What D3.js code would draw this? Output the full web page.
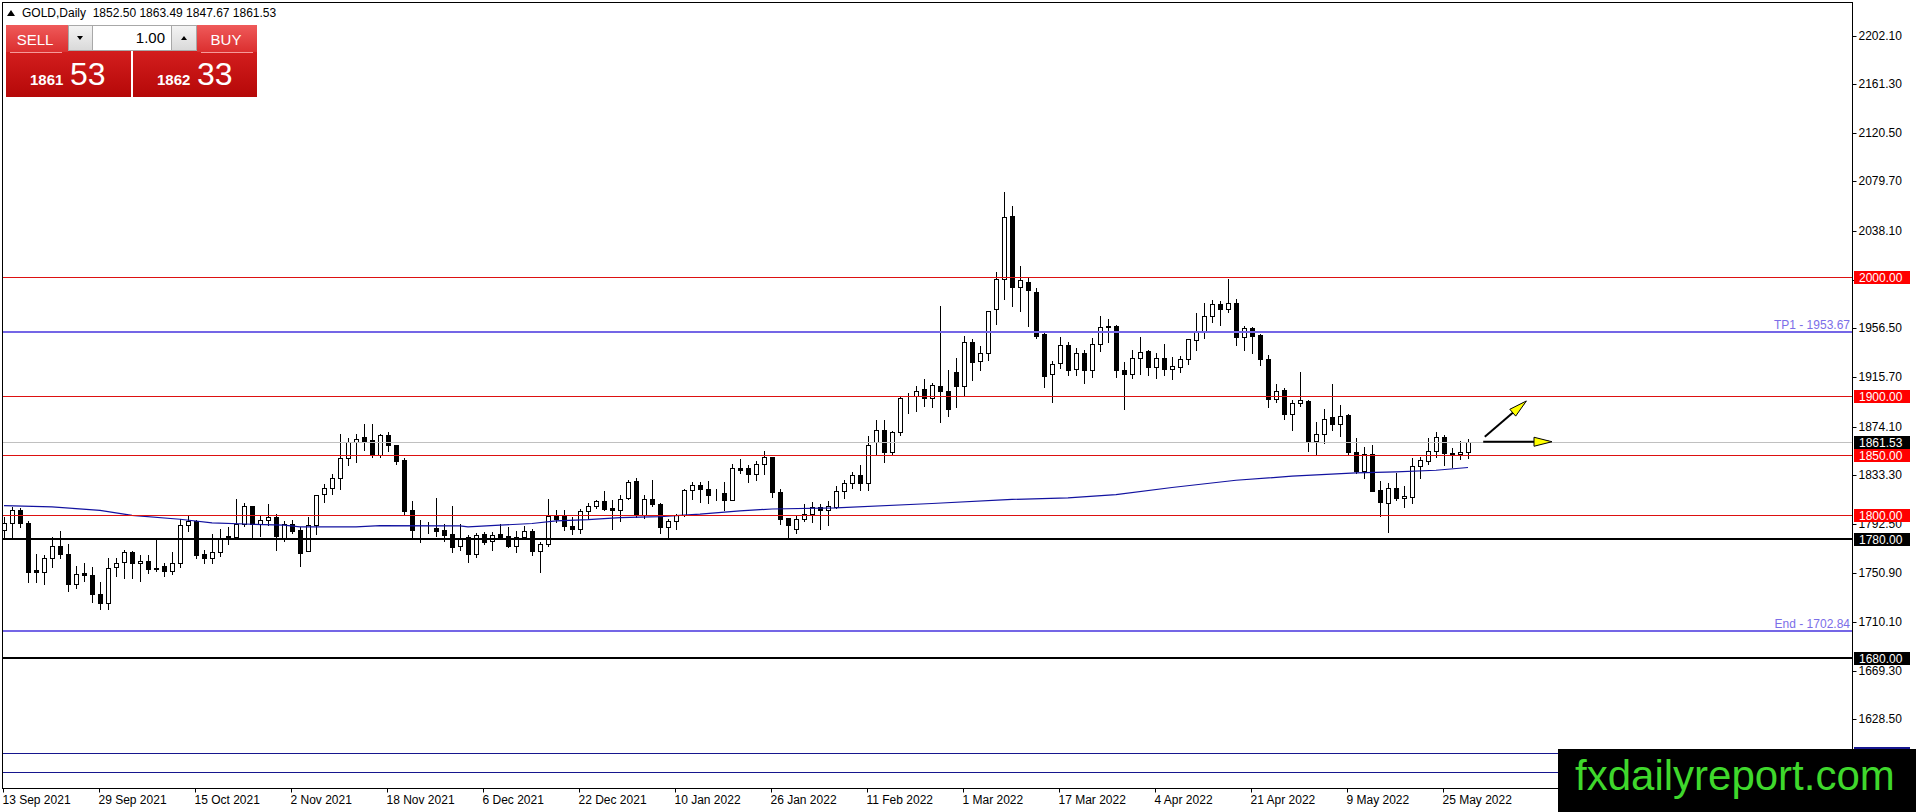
<!DOCTYPE html>
<html>
<head>
<meta charset="utf-8">
<script src="https://cdn.jsdelivr.net/npm/d3@7"></script>
<style>
body { margin: 0; background: #fff; }
svg { display: block; font-family: "Liberation Sans", Arial, sans-serif; }
</style>
</head>
<body>
<div id="content"></div>
<script>
var symbol = "GOLD,Daily";

// daily bars, 13 Sep 2021 .. end of May 2022
var opens = [
	1787,1793,1804,1793,1753.5,1752.5,1763.5,1773.8,1767.3,1741.7,
	1751,1749.3,1733.6,1725.8,1756,1760.7,1768.5,1759.3,1761.5,1755.6,
	1757,1753,1759.3,1791.9,1795,1767,1763.5,1768.5,1782.2,1781.6,
	1792.2,1807.3,1792.8,1796.1,1798.4,1780.2,1792.2,1787.2,1769.9,1791.4,
	1817.7,1822.9,1831.3,1848,1861.2,1865.4,1862.6,1850,1866.8,1858.4,
	1845.8,1803.9,1788,1788,1788.9,1787.7,1783.6,1773.8,1781.6,1767.1,
	1783.8,1778.3,1784.4,1782.2,1774,1781.6,1786.3,1770,1776,1798.9,
	1798.9,1790.5,1788.6,1803.1,1807.8,1811.5,1806.2,1803.9,1814.3,1828.2,
	1799.7,1813.7,1809.5,1790,1795,1799.7,1820.7,1825.4,1822.1,1818.7,
	1818.7,1812.9,1839.7,1839,1834.7,1843,1848.4,1819.4,1797.6,1788.4,
	1796.8,1801,1806.5,1804,1806.5,1820,1826.4,1833.1,1826.4,1861,
	1871.6,1852.6,1869.6,1898.1,1900,1905.6,1898.1,1908.4,1904.2,1919.9,
	1907.9,1945,1928.8,1935.8,1972.6,1997.8,2050.8,1991.1,1995.8,1987.2,
	1952,1918.2,1927.4,1942.8,1922.7,1935.8,1921.8,1943.6,1958.4,1958.4,
	1921.8,1918.5,1931.9,1937.5,1924.1,1931.9,1922.7,1924.1,1931,1946.4,
	1953.4,1966.5,1977.1,1972.9,1977.9,1949.2,1957,1950.6,1931,1897.5,
	1904.5,1885,1893.9,1895.3,1862.1,1867.7,1882.2,1876.6,1883.6,1852.9,
	1836.9,1851.5,1821.3,1810.2,1823,1813.8,1815.2,1840.9,1845.3,1853.4,
	1865.4,1852.3,1851,1852.50
];

var highs = [
	1798,1807,1806,1795,1767,1766,1781.6,1786.3,1776,1757,
	1760,1756.5,1743.9,1763.5,1763.5,1770.4,1769.9,1766,1766,1778.8,
	1759.3,1768.5,1797,1798.9,1796.1,1771,1784.4,1788.6,1790,1813.2,
	1810,1807.3,1799.7,1809.5,1800.6,1795,1795.6,1790,1798.4,1817.1,
	1826.3,1834.1,1867.6,1864.8,1868.1,1876.5,1876.5,1868.1,1869.5,1858.4,
	1848,1811.4,1795.6,1794.2,1814.5,1792.2,1807.8,1792.8,1783,1785,
	1785.8,1785.8,1792.2,1790,1786.6,1790.5,1788.6,1777.4,1813.7,1803.9,
	1803.9,1798.4,1804.8,1810,1812.9,1820.1,1812.3,1816.5,1829.1,1831.3,
	1816.5,1829.1,1810,1797,1801.1,1822.1,1827.7,1827.7,1828.5,1822.1,
	1827.7,1842.5,1847.2,1841.6,1845,1853.4,1848.4,1821.9,1797.6,1799,
	1808.8,1810.7,1808.8,1811.6,1824.1,1829.7,1835.8,1842.3,1866,1879.4,
	1880,1870.2,1899.5,1902.3,1908.4,1914,1910.7,1974.9,1921.3,1931.6,
	1950.3,1947.5,1941.4,1971.2,2003.4,2070.6,2059.2,2008.9,1999.4,1990.2,
	1953.9,1928.8,1949.2,1944.7,1940,1938.6,1948.4,1966.5,1964.5,1959,
	1928.3,1938.6,1949.2,1938.6,1935.8,1943.6,1932.4,1933,1947.8,1969.3,
	1977.9,1980.5,1979.3,1998,1981.3,1958.1,1957.6,1952,1933.8,1910.1,
	1906.8,1896.1,1919.9,1896.7,1878,1889.2,1909.5,1892,1885,1864.9,
	1857,1858.5,1828.3,1826.4,1835.3,1824.1,1848.1,1848.7,1864.9,1869.6,
	1866.8,1856.5,1862.1,1863.49
];

var lows = [
	1780,1780,1790,1744,1744,1741.7,1756.5,1763.5,1736.4,1739,
	1745,1727.2,1720.7,1721.5,1748.7,1746.7,1747.5,1744.8,1751.4,1752.8,
	1749,1750.3,1756.5,1786.3,1764,1759.3,1759.3,1765.7,1776,1781.6,
	1790.5,1781.6,1782.2,1791.4,1770.4,1778.3,1785,1757.3,1769.9,1784.4,
	1810.9,1817.3,1822.1,1841.6,1844.4,1854.7,1848.6,1849,1853.6,1842.5,
	1801.1,1780.2,1777.4,1785,1782.2,1778.3,1769,1771,1760.7,1765,
	1776,1771,1779.4,1773.2,1769,1780.2,1766.2,1752.3,1774,1794.2,
	1787.7,1784.4,1785.2,1797.8,1805.9,1803.9,1788.6,1795,1813.2,1798.4,
	1797.8,1807.3,1785,1781.6,1788.6,1799,1813.2,1811,1810,1812.9,
	1804,1812.3,1835.2,1827.7,1829,1834.7,1815.2,1792,1780.8,1785,
	1794.8,1794,1788.4,1791.2,1806,1814.3,1822.7,1820.8,1820.8,1851.5,
	1844.2,1850.6,1867.4,1885.5,1887,1891.1,1890.5,1877.7,1882.7,1890.3,
	1900.9,1913.5,1921.3,1929.6,1960.4,1981,1975.4,1970.7,1958.1,1948.4,
	1907.3,1894.5,1923.2,1917.6,1917.6,1910.7,1915.7,1937.2,1945,1915.7,
	1889.2,1914.9,1918.5,1917.1,1915.1,1917.1,1914.3,1919.9,1926.3,1938.6,
	1948.6,1961.8,1959.5,1970.1,1942.2,1938,1935.8,1925.5,1890.6,1894.8,
	1880.8,1871,1891.1,1853.7,1850.1,1860.4,1871.6,1866,1850.1,1835.3,
	1831.4,1820.2,1799,1785.9,1812.4,1806.3,1810.2,1831.4,1843.1,1848.7,
	1842.3,1840.3,1847.3,1847.67
];

var closes = [
	1793,1804,1793,1752.5,1752.5,1763.5,1773.8,1767.3,1741.7,1750.3,
	1749.3,1733.6,1725.8,1755.9,1759.3,1768.5,1759.3,1761.5,1755,1754.5,
	1753,1759.3,1791.9,1795,1766.2,1764,1768.5,1781,1779.4,1792.2,
	1807.3,1792.2,1796.1,1798.4,1782.2,1792.2,1786.6,1768.2,1791.4,1817.1,
	1822.9,1831.3,1848,1861.2,1864,1862,1850,1866.8,1858.4,1845.3,
	1803.4,1787.7,1788,1788.3,1786.6,1783,1773.2,1781,1767.1,1783,
	1777.4,1783,1781.6,1773.8,1781.6,1786.3,1770,1776,1798.9,1797,
	1790.5,1788.6,1803.1,1807.8,1811.5,1805.3,1803.9,1813.7,1827.7,1799.7,
	1813.7,1809.5,1790,1795,1799.7,1820.7,1825.4,1822.1,1817.1,1818,
	1812.9,1839.7,1837.4,1834.5,1843,1848.4,1819.1,1796.8,1791.2,1796.8,
	1801,1806.5,1804,1807.4,1820,1826.4,1833.1,1826.4,1858.5,1871.6,
	1852.6,1869.6,1898.1,1898.4,1903.7,1898.1,1909.3,1903.7,1889.2,1908.4,
	1945,1928,1935.8,1970.7,1997.8,2049.7,1991.6,1997.2,1988.3,1950.3,
	1916.8,1926.6,1942.2,1921.3,1935.8,1921.3,1943.6,1957.6,1957.4,1921.8,
	1918.5,1931.9,1936.6,1924.1,1931.9,1922.7,1924.6,1931,1947.2,1953.4,
	1966.5,1977.1,1972.9,1977.9,1949.2,1957,1949.7,1931,1897.5,1904,
	1885,1893.9,1896.1,1862.1,1867.7,1880.8,1876.6,1883,1852.9,1836.9,
	1851.5,1820.2,1811,1823,1813.8,1815.7,1840.9,1845.9,1853.4,1865.4,
	1852.3,1850.9,1853.2,1861.53
];

// moving average, read at these bars
var maBars = [0, 6, 12, 16, 22, 26, 31, 35, 37, 44, 47, 57, 58, 62, 66, 69, 73, 77, 82, 87,
	92, 96, 104, 116, 126, 133, 139, 146, 154, 161, 169, 174, 179, 183];
var maValues = [1807.8, 1806.7, 1803.9, 1799.7, 1796.4, 1793.3, 1792.2, 1791.4, 1790, 1790,
	1791.1, 1790.8, 1790, 1791.4, 1792.8, 1795, 1796.1, 1797.8, 1798.6, 1800.6,
	1803.4, 1805, 1806, 1809.6, 1813, 1814.3, 1817, 1823, 1829.1, 1832.5,
	1835.3, 1836.1, 1837.5, 1839.8];

var priceTicks = [2202.10, 2161.30, 2120.50, 2079.70, 2038.10, 1997.30, 1956.50, 1915.70,
	1874.10, 1833.30, 1792.50, 1750.90, 1710.10, 1669.30, 1628.50];

var dateBars = [0, 12, 24, 36, 48, 60, 72, 84, 96, 108, 120, 132, 144, 156, 168, 180];
var dateLabels = ["13 Sep 2021", "29 Sep 2021", "15 Oct 2021", "2 Nov 2021", "18 Nov 2021",
	"6 Dec 2021", "22 Dec 2021", "10 Jan 2022", "26 Jan 2022", "11 Feb 2022", "1 Mar 2022",
	"17 Mar 2022", "4 Apr 2022", "21 Apr 2022", "9 May 2022", "25 May 2022"];

var redLevels = [2000, 1900, 1850, 1800];
var blackLevels = [1780, 1680];
var navyLevels = [1600, 1584];
var targetNames = ["TP1", "End"];
var targetLevels = [1953.67, 1702.84];

var bid = 1861.53;
var ask = 1862.33;
var lotSize = "1.00";

var arrowStartBars = [185.1, 184.9];
var arrowStartPrices = [1865.6, 1861.4];
var arrowEndBars = [190.3, 193.5];
var arrowEndPrices = [1895.6, 1861.4];

var width = 1916, height = 812;
var plotLeft = 3, plotTop = 3, plotRight = 1852, plotBottom = 788;

var svg = d3.select("#content").append("svg")
	.attr("width", width).attr("height", height);

var x = d3.scaleLinear().domain([0, 183]).range([4, 1468]);
var y = d3.scaleLinear().domain([2000, 1680]).range([276.5, 658]);

var px = function (v) { return Math.round(v) + 0.5; };

var defs = svg.append("defs");
defs.append("clipPath").attr("id", "plotClip")
	.append("rect").attr("x", plotLeft).attr("y", plotTop)
	.attr("width", plotRight - plotLeft).attr("height", plotBottom - plotTop);

var grad = function (id, c1, c2) {
	var g = defs.append("linearGradient").attr("id", id)
		.attr("x1", 0).attr("y1", 0).attr("x2", 0).attr("y2", 1);
	g.append("stop").attr("offset", "0%").attr("stop-color", c1);
	g.append("stop").attr("offset", "100%").attr("stop-color", c2);
};
grad("btnTop", "#ef5a5a", "#db2f2f");
grad("btnBig", "#e42a2a", "#b50808");
grad("spin", "#f4f4f4", "#d9d9d9");

svg.append("rect").attr("width", width).attr("height", height).attr("fill", "#fff");

var plot = svg.append("g").attr("clip-path", "url(#plotClip)");
var bars = d3.range(opens.length);

// candles
plot.selectAll("line.wick").data(bars).enter().append("line")
	.attr("class", "wick")
	.attr("x1", function (i) { return Math.round(x(i)) + 0.5; })
	.attr("x2", function (i) { return Math.round(x(i)) + 0.5; })
	.attr("y1", function (i) { return Math.round(y(highs[i])); })
	.attr("y2", function (i) { return Math.round(y(lows[i])) + 1; })
	.attr("stroke", "#000");

plot.selectAll("rect.body").data(bars).enter().append("rect")
	.attr("class", "body")
	.attr("x", function (i) { return Math.round(x(i)) - 1.5; })
	.attr("width", 4)
	.attr("y", function (i) { return Math.round(y(Math.max(opens[i], closes[i]))) + 0.5; })
	.attr("height", function (i) {
		return Math.round(y(Math.min(opens[i], closes[i]))) - Math.round(y(Math.max(opens[i], closes[i])));
	})
	.attr("fill", function (i) { return closes[i] < opens[i] ? "#000" : "#fff"; })
	.attr("stroke", "#000");

// moving average
var maLine = d3.line()
	.x(function (d, i) { return x(maBars[i]); })
	.y(function (d) { return y(d); });

plot.append("path").datum(maValues)
	.attr("d", maLine)
	.attr("fill", "none")
	.attr("stroke", "#1212a0")
	.attr("stroke-width", 1.2);

// horizontal levels
var hline = function (v, color, w) {
	var yy = w > 1 ? Math.round(y(v)) : px(y(v));
	plot.append("line")
		.attr("x1", plotLeft).attr("x2", plotRight)
		.attr("y1", yy).attr("y2", yy)
		.attr("stroke", color).attr("stroke-width", w);
};

hline(bid, "#c0c0c0", 1);
redLevels.forEach(function (v) { hline(v, "#dd1111", 1); });
blackLevels.forEach(function (v) { hline(v, "#000", 2); });
navyLevels.forEach(function (v) { hline(v, "#16168e", 1); });
targetLevels.forEach(function (v) { hline(v, "#7466e6", 2); });

plot.selectAll("text.target").data(targetLevels).enter().append("text")
	.attr("class", "target")
	.attr("x", plotRight - 2)
	.attr("y", function (d) { return Math.round(y(d)) - 3; })
	.attr("text-anchor", "end")
	.attr("font-size", 12)
	.attr("fill", "#7b6ee8")
	.text(function (d, i) { return targetNames[i] + " - " + d.toFixed(2); });

// arrows
var drawArrow = function (x1, y1, x2, y2) {
	var ang = Math.atan2(y2 - y1, x2 - x1);
	var len = 18, half = 4.5;
	var bx = x2 - len * Math.cos(ang), by = y2 - len * Math.sin(ang);
	plot.append("line")
		.attr("x1", x1).attr("y1", y1)
		.attr("x2", x2 - 3 * Math.cos(ang)).attr("y2", y2 - 3 * Math.sin(ang))
		.attr("stroke", "#000").attr("stroke-width", 2);
	plot.append("path")
		.attr("d", "M" + x2 + "," + y2 +
			"L" + (bx - half * Math.sin(ang)) + "," + (by + half * Math.cos(ang)) +
			"L" + (bx + half * Math.sin(ang)) + "," + (by - half * Math.cos(ang)) + "Z")
		.attr("fill", "#ffff00").attr("stroke", "#000").attr("stroke-width", 1);
};

for (var a = 0; a < arrowStartBars.length; a++) {
	drawArrow(x(arrowStartBars[a]), y(arrowStartPrices[a]), x(arrowEndBars[a]), y(arrowEndPrices[a]));
}

// frame
svg.append("rect")
	.attr("x", plotLeft - 0.5).attr("y", plotTop - 0.5)
	.attr("width", plotRight - plotLeft + 1).attr("height", plotBottom - plotTop + 1)
	.attr("fill", "none").attr("stroke", "#000");

// price axis
var yAxis = svg.append("g")
	.attr("transform", "translate(" + (plotRight + 0.5) + ",0)")
	.call(d3.axisRight(y).tickValues(priceTicks).tickSize(4).tickSizeOuter(0)
		.tickFormat(function (d) { return d.toFixed(2); }));
yAxis.select(".domain").remove();
yAxis.attr("font-family", null).attr("font-size", 12);
yAxis.selectAll("text").attr("fill", "#000").attr("x", 6);
yAxis.selectAll(".tick line").attr("stroke", "#000");
yAxis.selectAll(".tick").attr("transform", function (d) { return "translate(0," + px(y(d)) + ")"; });

// date axis
var xAxis = svg.append("g")
	.attr("transform", "translate(0," + (plotBottom + 0.5) + ")")
	.call(d3.axisBottom(x).tickValues(dateBars).tickSize(4).tickSizeOuter(0)
		.tickFormat(function (d, i) { return dateLabels[i]; }));
xAxis.select(".domain").remove();
xAxis.attr("font-family", null).attr("font-size", 12);
xAxis.selectAll("text").attr("fill", "#000").attr("text-anchor", "start").attr("x", -1).attr("y", 7);
xAxis.selectAll(".tick line").attr("stroke", "#000");
xAxis.selectAll(".tick").attr("transform", function (d) { return "translate(" + (Math.round(x(d)) - 0.5) + ",0)"; });

// level labels on the price axis
var levelLabel = function (v, bg) {
	var yy = Math.round(y(v));
	svg.append("rect")
		.attr("x", plotRight + 2).attr("y", yy - 6)
		.attr("width", 56).attr("height", 13)
		.attr("fill", bg);
	svg.append("text")
		.attr("x", plotRight + 7).attr("y", yy + 5)
		.attr("font-size", 12).attr("fill", "#fff")
		.text(v.toFixed(2));
};

navyLevels.forEach(function (v) { levelLabel(v, "#16168e"); });
redLevels.forEach(function (v) { levelLabel(v, "#ff0000"); });
blackLevels.forEach(function (v) { levelLabel(v, "#000"); });
levelLabel(bid, "#000");

// header
var last = opens.length - 1;
svg.append("path").attr("d", "M7,16L15,16L11,10Z").attr("fill", "#000");
svg.append("text")
	.attr("x", 22).attr("y", 17)
	.attr("font-size", 12).attr("fill", "#000")
	.attr("xml:space", "preserve")
	.text(symbol + "  " + opens[last].toFixed(2) + " " + highs[last].toFixed(2) + " " +
		lows[last].toFixed(2) + " " + closes[last].toFixed(2));

// one click trading panel
var panel = svg.append("g");
panel.append("rect").attr("x", 6).attr("y", 25).attr("width", 125).attr("height", 72).attr("fill", "url(#btnBig)");
panel.append("rect").attr("x", 133).attr("y", 25).attr("width", 124).attr("height", 72).attr("fill", "url(#btnBig)");
panel.append("rect").attr("x", 6).attr("y", 25).attr("width", 62).attr("height", 27).attr("fill", "url(#btnTop)");
panel.append("rect").attr("x", 197).attr("y", 25).attr("width", 60).attr("height", 27).attr("fill", "url(#btnTop)");
panel.append("line").attr("x1", 10).attr("x2", 62).attr("y1", 52.5).attr("y2", 52.5).attr("stroke", "#f59a9a");
panel.append("line").attr("x1", 201).attr("x2", 253).attr("y1", 52.5).attr("y2", 52.5).attr("stroke", "#f59a9a");

panel.append("rect").attr("x", 68.5).attr("y", 25.5).attr("width", 128).attr("height", 25)
	.attr("fill", "#fff").attr("stroke", "#a8a8a8");
panel.append("rect").attr("x", 68.5).attr("y", 25.5).attr("width", 24).attr("height", 25)
	.attr("fill", "url(#spin)").attr("stroke", "#a8a8a8");
panel.append("rect").attr("x", 171.5).attr("y", 25.5).attr("width", 25).attr("height", 25)
	.attr("fill", "url(#spin)").attr("stroke", "#a8a8a8");
panel.append("path").attr("d", "M77,36L83,36L80,40Z").attr("fill", "#000");
panel.append("path").attr("d", "M181,40L187,40L184,36Z").attr("fill", "#000");
panel.append("text").attr("x", 165).attr("y", 43).attr("text-anchor", "end")
	.attr("font-size", 15).attr("fill", "#000").text(lotSize);

panel.append("text").attr("x", 35).attr("y", 45).attr("text-anchor", "middle")
	.attr("font-size", 15).attr("fill", "#fff").text("SELL");
panel.append("text").attr("x", 226).attr("y", 45).attr("text-anchor", "middle")
	.attr("font-size", 15).attr("fill", "#fff").text("BUY");

var priceBox = function (price, xSmall, xBig) {
	var s = price.toFixed(2).split(".");
	panel.append("text").attr("x", xSmall).attr("y", 85)
		.attr("font-size", 15).attr("font-weight", "bold").attr("fill", "#fff").text(s[0]);
	panel.append("text").attr("x", xBig).attr("y", 85)
		.attr("font-size", 32).attr("fill", "#fff").text(s[1]);
};
priceBox(bid, 30, 70);
priceBox(ask, 157, 197);

// watermark
svg.append("rect").attr("x", 1558).attr("y", 749).attr("width", 358).attr("height", 63).attr("fill", "#000");
svg.append("text").attr("x", 1575).attr("y", 790)
	.attr("font-size", 42).attr("fill", "#3fd82c")
	.text("fxdailyreport.com");
</script>
</body>
</html>
